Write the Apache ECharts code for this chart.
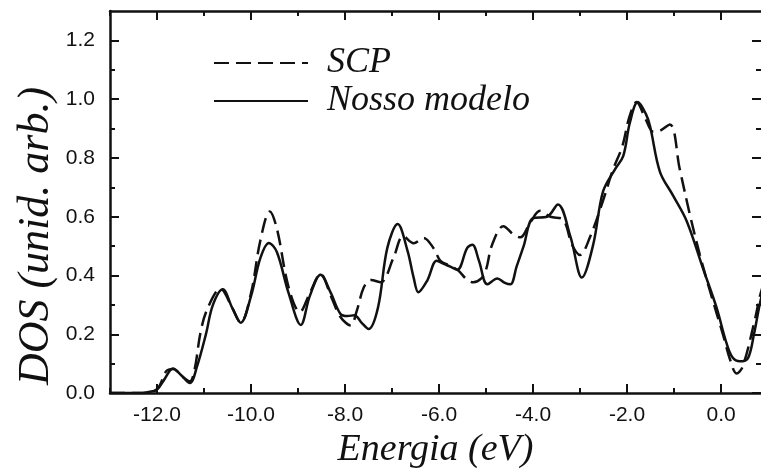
<!DOCTYPE html>
<html>
<head>
<meta charset="utf-8">
<script src="https://cdn.jsdelivr.net/npm/echarts@6/dist/echarts.min.js"></script>
<style>html,body{margin:0;padding:0;background:#fff;}#c{width:761px;height:474px;}</style>
</head>
<body>
<div id="c"></div>
<script>
// ---- data ----
const scpE = [-13.0,-12.3,-12.0,-11.8,-11.66,-11.45,-11.3,-11.2,-11.07,-10.92,-10.65,-10.4,-10.22,-10.0,-9.8,-9.6,-9.45,-9.2,-8.96,-8.75,-8.52,-8.3,-8.1,-7.88,-7.75,-7.6,-7.45,-7.24,-6.97,-6.76,-6.54,-6.33,-6.12,-5.97,-5.76,-5.59,-5.4,-5.27,-5.1,-5.0,-4.87,-4.63,-4.42,-4.27,-4.06,-3.85,-3.63,-3.36,-3.17,-3.0,-2.79,-2.5,-2.3,-2.1,-1.95,-1.8,-1.6,-1.45,-1.36,-1.09,-0.88,-0.66,-0.45,-0.24,0.04,0.2,0.33,0.46,0.72,0.82,0.9];
const scpDOS = [0,0,0.013,0.075,0.082,0.055,0.04,0.08,0.21,0.29,0.355,0.29,0.24,0.34,0.52,0.618,0.56,0.36,0.276,0.34,0.405,0.33,0.26,0.23,0.28,0.36,0.385,0.377,0.46,0.534,0.51,0.528,0.494,0.45,0.433,0.417,0.385,0.377,0.39,0.42,0.505,0.568,0.54,0.53,0.58,0.62,0.60,0.59,0.505,0.47,0.53,0.66,0.76,0.84,0.94,0.99,0.93,0.89,0.89,0.914,0.763,0.605,0.47,0.35,0.2,0.11,0.067,0.09,0.25,0.325,0.37];
const modelE = [-13.0,-12.4,-12.2,-12.0,-11.85,-11.66,-11.48,-11.3,-11.15,-10.96,-10.81,-10.6,-10.4,-10.22,-10.0,-9.8,-9.62,-9.45,-9.2,-8.94,-8.75,-8.52,-8.3,-8.1,-7.95,-7.8,-7.65,-7.5,-7.3,-7.1,-6.88,-6.67,-6.54,-6.44,-6.25,-6.05,-5.9,-5.76,-5.61,-5.4,-5.29,-5.15,-4.97,-4.76,-4.6,-4.48,-4.35,-4.2,-4.0,-3.7,-3.47,-3.2,-2.96,-2.72,-2.51,-2.25,-2.08,-1.94,-1.77,-1.6,-1.51,-1.3,-1.02,-0.73,-0.39,-0.1,0.12,0.25,0.4,0.57,0.7,0.82,0.9];
const modelDOS = [0,0,0.003,0.012,0.045,0.084,0.06,0.034,0.09,0.2,0.3,0.353,0.29,0.239,0.33,0.46,0.511,0.48,0.34,0.232,0.33,0.403,0.34,0.27,0.262,0.265,0.24,0.218,0.29,0.494,0.575,0.484,0.393,0.343,0.383,0.45,0.44,0.43,0.42,0.494,0.505,0.45,0.37,0.39,0.375,0.37,0.43,0.5,0.595,0.6,0.642,0.53,0.393,0.505,0.686,0.763,0.807,0.92,0.99,0.95,0.908,0.753,0.672,0.585,0.427,0.293,0.168,0.12,0.108,0.118,0.2,0.3,0.35];
const xMajor = [-12,-10,-8,-6,-4,-2,0];
const xMinor = [-13,-11,-9,-7,-5,-3,-1];
const yMajor = [0,0.2,0.4,0.6,0.8,1.0,1.2];
const yMinor = [0.1,0.3,0.5,0.7,0.9,1.1];
const seriesNames = ['SCP','Nosso modelo'];
const xTitle = 'Energia (eV)';
const yTitle = 'DOS (unid. arb.)';

const X0 = -13, X1 = 0.85, Y0 = 0, Y1 = 1.3;
const ink = '#111';
const sans = 'Liberation Sans';
const serif = 'Liberation Serif';

function xAx(pos, vals, len, labels, line, extra) {
  return Object.assign({
    type: 'value', position: pos, min: X0, max: X1,
    axisLine: { show: line, onZero: false, lineStyle: { color: ink, width: 2.5 } },
    axisTick: { show: true, inside: true, length: len, customValues: vals, lineStyle: { color: ink, width: 2 } },
    axisLabel: labels ? { show: true, customValues: vals, formatter: v => v.toFixed(1), fontFamily: sans, fontSize: 21, color: ink, margin: 12 } : { show: false },
    splitLine: { show: false }
  }, extra || {});
}
function yAx(pos, vals, len, labels, line, extra) {
  return Object.assign({
    type: 'value', position: pos, min: Y0, max: Y1,
    axisLine: { show: line, onZero: false, lineStyle: { color: ink, width: 2.5 } },
    axisTick: { show: true, inside: true, length: len, customValues: vals, lineStyle: { color: ink, width: 2 } },
    axisLabel: labels ? { show: true, customValues: vals, formatter: v => v.toFixed(1), fontFamily: sans, fontSize: 21, color: ink, margin: 15 } : { show: false },
    splitLine: { show: false }
  }, extra || {});
}

const chart = echarts.init(document.getElementById('c'), null, { renderer: 'canvas' });
chart.setOption({
  animation: false,
  backgroundColor: '#fff',
  grid: { left: 110, right: 0, top: 11, bottom: 77, containLabel: false },
  legend: {
    orient: 'vertical', left: 213, top: 45, padding: 0, itemWidth: 94, itemHeight: 14, itemGap: 2,
    data: seriesNames,
    itemStyle: { opacity: 0 },
    textStyle: { fontFamily: serif, fontStyle: 'italic', fontSize: 36, color: ink, padding: [0, 0, 0, 14] }
  },
  graphic: [{
    type: 'text', x: 36, y: 236, rotation: Math.PI / 2,
    style: { text: yTitle, fontFamily: serif, fontStyle: 'italic', fontSize: 44, fill: ink, align: 'center', verticalAlign: 'middle' }
  }],
  xAxis: [
    xAx('bottom', xMajor, 9, true, true, { name: xTitle, nameLocation: 'middle', nameGap: 35,
      nameTextStyle: { fontFamily: serif, fontStyle: 'italic', fontSize: 38, color: ink } }),
    xAx('bottom', xMinor, 5, false, false),
    xAx('top', xMajor, 9, false, true),
    xAx('top', xMinor, 5, false, false)
  ],
  yAxis: [
    yAx('left', yMajor, 9, true, true),
    yAx('left', yMinor, 5, false, false),
    yAx('right', yMajor, 9, false, false),
    yAx('right', yMinor, 5, false, false)
  ],
  series: [
    { name: seriesNames[0], type: 'line', xAxisIndex: 0, yAxisIndex: 0, smooth: 0.35, symbol: 'none',
      data: scpE.map((e, i) => [e, scpDOS[i]]),
      lineStyle: { color: ink, width: 2.5, type: [15, 7] }, itemStyle: { color: ink } },
    { name: seriesNames[1], type: 'line', xAxisIndex: 0, yAxisIndex: 0, smooth: 0.35, symbol: 'none',
      data: modelE.map((e, i) => [e, modelDOS[i]]),
      lineStyle: { color: ink, width: 2.5 }, itemStyle: { color: ink } }
  ]
});
</script>
</body>
</html>
